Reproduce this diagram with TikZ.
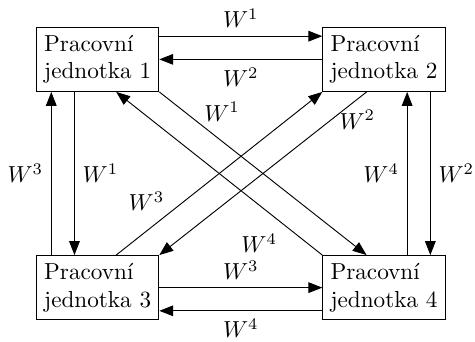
\documentclass[tikz,border=0pt]{standalone}
\usetikzlibrary{arrows.meta}
\tikzset{
  unit/.style={rectangle, draw, align=left},
  arr/.style={-{Triangle[length=6pt,width=4.6pt]}},
}

\begin{document}
\begin{tikzpicture}
\useasboundingbox (0,0) rectangle (7.2,5.18);
\node[unit] (j1) at (1.48,4.28) {Pracovní\\jednotka 1};
\node[unit] (j2) at (5.82,4.28) {Pracovní\\jednotka 2};
\node[unit] (j3) at (1.48,0.82) {Pracovní\\jednotka 3};
\node[unit] (j4) at (5.82,0.82) {Pracovní\\jednotka 4};
% horizontal
\draw[arr] ([yshift=10pt]j1.east) -- node[above]{$W^1$} ([yshift=10pt]j2.west);
\draw[arr] (j2.west) -- node[below]{$W^2$} (j1.east);
\draw[arr] (j3.east) -- node[above]{$W^3$} (j4.west);
\draw[arr] ([yshift=-10pt]j4.west) -- node[below]{$W^4$} ([yshift=-10pt]j3.east);
% vertical
\draw[arr] ([xshift=-20pt]j3.north) -- node[left]{$W^3$} ([xshift=-20pt]j1.south);
\draw[arr] ([xshift=-10pt]j1.south) -- node[right]{$W^1$} ([xshift=-10pt]j3.north);
\draw[arr] ([xshift=10pt]j4.north) -- node[left]{$W^4$} ([xshift=10pt]j2.south);
\draw[arr] ([xshift=20pt]j2.south) -- node[right]{$W^2$} ([xshift=20pt]j4.north);
% diagonal
\draw[arr] (j1.south east) -- node[pos=0.2,above right=-2pt]{$W^1$} ([xshift=-7.5pt]j4.north);
\draw[arr] (j4.north west) -- node[pos=0.18,below left]{$W^4$} ([xshift=8pt]j1.south);
\draw[arr] ([xshift=-7.5pt]j2.south) -- node[pos=0.17,right]{$W^2$} (j3.north east);
\draw[arr] ([xshift=8pt]j3.north) -- node[pos=0.25,above left=-2pt]{$W^3$} (j2.south west);
\end{tikzpicture}
\end{document}
